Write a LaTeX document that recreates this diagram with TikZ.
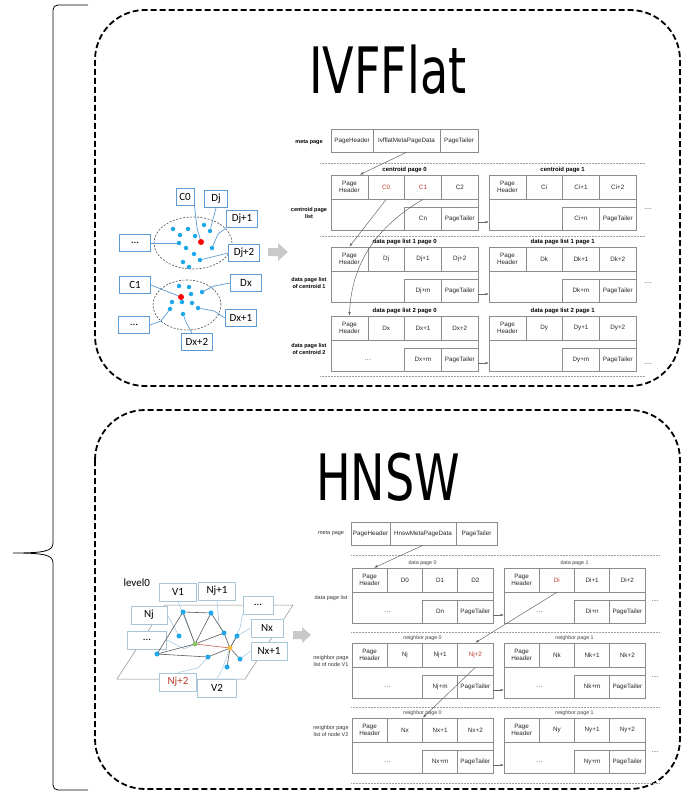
\documentclass[tikz,border=0pt]{standalone}
\usepackage{fontspec}
\setmainfont{Liberation Sans}
\newfontfamily\carlito{Carlito}
\newfontfamily\headfont[FakeStretch=0.72]{DejaVu Sans}
\usetikzlibrary{arrows.meta}

\definecolor{cellgrey}{HTML}{8C8C8C}
\definecolor{sepgrey}{HTML}{A0A0A0}
\definecolor{cellred}{HTML}{C0392B}
\definecolor{boxblue}{HTML}{5B9BD5}
\definecolor{paleblue}{HTML}{A9C6D8}
\definecolor{dotblue}{HTML}{1FA8E8}
\definecolor{leadblue}{HTML}{9CC4DE}
\definecolor{nodegreen}{HTML}{8CC46C}
\definecolor{nodeyellow}{HTML}{F7B941}
\definecolor{arrowgrey}{HTML}{C9C9C9}

\tikzset{
  outline/.style={line width=1.8pt, dash pattern=on 6pt off 3pt, rounded corners=50pt},
  cell/.style={draw=cellgrey, line width=0.6pt, inner sep=0pt, minimum width=\cw pt,
    minimum height=24pt, align=center, text=black!85, font=\fontsize{6.3}{7.3}\selectfont},
  cellfree/.style={inner sep=0pt, text=black!70, font=\fontsize{7}{8}\selectfont},
  pagetitle/.style={font=\bfseries\fontsize{6}{7}\selectfont},
  sidelabel/.style={align=center, font=\bfseries\fontsize{5.5}{6.8}\selectfont},
  sepline/.style={draw=sepgrey, line width=0.6pt, dash pattern=on 0.6pt off 0.9pt},
  link/.style={draw=black!60, line width=0.5pt, -{Latex[length=3.5pt,width=2.5pt]}},
  moredots/.style={font=\fontsize{7}{8}\selectfont},
  bdot/.style={circle, fill=dotblue, inner sep=0pt, minimum size=4.5pt},
  rdot/.style={circle, fill=red, inner sep=0pt, minimum size=6pt},
  lead/.style={draw=boxblue, line width=0.7pt},
  tag/.style={draw=boxblue, line width=1pt, fill=white, inner sep=0pt, minimum width=31pt,
    minimum height=17pt, font=\carlito\fontsize{11}{12}\selectfont},
  softtag/.style={draw=paleblue, line width=0.8pt, fill=white, inner sep=0pt, minimum width=37pt,
    minimum height=18pt, font=\carlito\fontsize{11}{12}\selectfont},
  softlead/.style={draw=leadblue, line width=0.5pt},
  edge/.style={draw=black!65, line width=0.6pt},
  gdot/.style={circle, inner sep=0pt, minimum size=5pt},
}

% one page: header row, free space, last item and tailer
\newcommand{\pageblock}[9]{%
  \begin{scope}[shift={(#2,#3)}]
    \draw[draw=cellgrey, line width=0.6pt] (0,0) rectangle (4*\cw,55);
    \node[cell] (#1h) at (0.5*\cw,12) {Page\\Header};
    \node[cell] (#1a) at (1.5*\cw,12) {#4};
    \node[cell] (#1b) at (2.5*\cw,12) {#5};
    \node[cell] (#1c) at (3.5*\cw,12) {#6};
    \node[cellfree] (#1d) at (\cw,44) {#7};
    \node[cell, minimum height=23pt] (#1n) at (2.5*\cw,43.5) {#8};
    \node[cell, minimum height=23pt] (#1t) at (3.5*\cw,43.5) {PageTailer};
    \node[pagetitle] (#1title) at (2*\cw,-5) {#9};
    \coordinate (#1in) at (0,47);
    \coordinate (#1out) at (4*\cw,47);
  \end{scope}}

\begin{document}
\begin{tikzpicture}[x=1pt,y=-1pt]
  \useasboundingbox (0,0) rectangle (684,794);

  %%%%% BRACE AND FRAMES %%%%%
  \draw[line width=0.8pt] (88,5) -- (58,5) .. controls (55,5) and (53,7) .. (53,10) -- (53,543)
    .. controls (53,551) and (45,553) .. (13,553) .. controls (45,553) and (53,555) .. (53,563)
    -- (53,785) .. controls (53,788) and (55,790) .. (58,790) -- (88,790);

  \draw[outline] (95,10) rectangle (680,386);
  \draw[outline] (95,410) rectangle (680,789);

  \node[font=\headfont\fontsize{64}{70}\selectfont] (tivf) at (388,70) {IVFFlat};
  \node[font=\headfont\fontsize{64}{70}\selectfont] (thnsw) at (388,477) {HNSW};

  %%%%% IVFFLAT CLUSTERS %%%%%
  \draw[draw=black!70, line width=0.6pt, dash pattern=on 2pt off 1.5pt] (193,243) ellipse [x radius=39pt, y radius=26pt];
  \draw[draw=black!70, line width=0.6pt, dash pattern=on 2pt off 1.5pt] (187,305) ellipse [x radius=34pt, y radius=25pt];

  \node[bdot] (a1) at (173,229) {};
  \node[bdot] (a2) at (188,229) {};
  \node[bdot] (a3) at (204,225) {};
  \node[bdot] (a4) at (210,231) {};
  \node[bdot] (a5) at (180,235) {};
  \node[bdot] (a6) at (195,236) {};
  \node[bdot] (a7) at (179,243) {};
  \node[bdot] (a8) at (186,248) {};
  \node[bdot] (a9) at (212,248) {};
  \node[bdot] (a10) at (194,254) {};
  \node[bdot] (a11) at (200,260) {};
  \node[bdot] (a12) at (183,262) {};
  \node[bdot] (a13) at (189,267) {};
  \node[rdot] (r1) at (201,242) {};

  \node[bdot] (b1) at (179,286) {};
  \node[bdot] (b2) at (189,287) {};
  \node[bdot] (b3) at (202,292) {};
  \node[bdot] (b4) at (191,294) {};
  \node[bdot] (b5) at (172,302) {};
  \node[bdot] (b6) at (182,302) {};
  \node[bdot] (b7) at (192,303) {};
  \node[bdot] (b8) at (198,308) {};
  \node[bdot] (b9) at (170,309) {};
  \node[bdot] (b10) at (183,314) {};
  \node[rdot] (r2) at (181,297) {};

  \node[tag, minimum width=18pt] (lC0) at (185,197) {C0};
  \node[tag, minimum width=23pt] (lDj) at (216,199) {Dj};
  \node[tag] (lDja) at (242,219) {Dj+1};
  \node[tag] (lDotsA) at (135,243) {...};
  \node[tag] (lDjb) at (244,253) {Dj+2};
  \node[tag] (lC1) at (135,285) {C1};
  \node[tag] (lDx) at (246,283) {Dx};
  \node[tag] (lDotsB) at (134,325) {...};
  \node[tag] (lDxa) at (241,318) {Dx+1};
  \node[tag] (lDxb) at (197,342) {Dx+2};

  \draw[lead] (lC0.south east) -- (197,228) -- (r1);
  \draw[lead] (lDj.south) -- (213,219) -- (a4);
  \draw[lead] (lDja.south west) -- (218,234) -- (a9);
  \draw[lead] (lDotsA.east) -- (a7);
  \draw[lead] (lDjb.west) -- (a11);
  \draw[lead] (lC1.east) -- (r2);
  \draw[lead] (lDx.west) -- (214,286) -- (b3);
  \draw[lead] (lDotsB.east) -- (161,321) -- (b9);
  \draw[lead] (lDxa.west) -- (214,311) -- (b8);
  \draw[lead] (lDxb.120) -- (186,322) -- (b10);

  \fill[arrowgrey] (268,248) -- (278,248) -- (278,243) -- (288,252) -- (278,261) -- (278,256) -- (268,256) -- cycle;

  %%%%% IVFFLAT PAGES %%%%%
  \def\cw{36.8}
  \node[sidelabel] (lmeta) at (309,142) {meta page};
  \node[sidelabel] (lcent) at (309,213) {centroid page\\list};
  \node[sidelabel] (ldata1) at (309,283) {data page list\\of centroid 1};
  \node[sidelabel] (ldata2) at (309,349) {data page list\\of centroid 2};

  \node[cell, minimum width=42pt, minimum height=23pt] (mh) at (352,140.5) {PageHeader};
  \node[cell, minimum width=67pt, minimum height=23pt] (mm) at (406.5,140.5) {IvfflatMetaPageData};
  \node[cell, minimum width=38pt, minimum height=23pt] (mt) at (459,140.5) {PageTailer};

  \draw[sepline] (320,163) -- (645,163);
  \draw[sepline] (320,236) -- (645,236);
  \draw[sepline] (320,376) -- (645,376);

  \pageblock{c0}{331}{175}{\textcolor{cellred}{C0}}{\textcolor{cellred}{C1}}{C2}{}{Cn}{centroid page 0}
  \pageblock{c1}{489}{175}{Ci}{Ci+1}{Ci+2}{}{Ci+n}{centroid page 1}
  \pageblock{da0}{331}{247}{Dj}{Dj+1}{Dj+2}{}{Dj+m}{data page list 1 page 0}
  \pageblock{da1}{489}{247}{Dk}{Dk+1}{Dk+2}{}{Dk+m}{data page list 1 page 1}
  \pageblock{db0}{331}{316}{Dx}{Dx+1}{Dx+2}{…}{Dx+m}{data page list 2 page 0}
  \pageblock{db1}{489}{316}{Dy}{Dy+1}{Dy+2}{}{Dy+m}{data page list 2 page 1}

  \node[moredots] (c1more) at (648,209) {…};
  \node[moredots] (da1more) at (648,283) {…};
  \node[moredots] (db1more) at (648,364) {…};

  \draw[link] (c0out) -- (c1in);
  \draw[link] (da0out) -- (da1in);
  \draw[link] (db0out) -- (db1in);

  \draw[link] (mm.south) -- (c0h.50);
  \draw[link] (c0a.south) -- (da0h.north);
  \draw[link] (c0b.south) .. controls (385,222) and (352,255) .. (db0h.north);

  %%%%% HNSW GRAPH %%%%%
  \node[anchor=west, font=\carlito\fontsize{11}{12}\selectfont] (lvl) at (120,583) {level0};

  \draw[draw=black!45, line width=0.5pt] (117,679) -- (165,605) -- (293,605) -- (245,679) -- cycle;

  \coordinate (g) at (195,644);
  \coordinate (y) at (230,648);
  \coordinate (n1) at (183,612);
  \coordinate (n2) at (211,613);
  \coordinate (n3) at (224,633);
  \coordinate (n4) at (179,636);
  \coordinate (n5) at (157,654);
  \coordinate (n6) at (208,657);
  \coordinate (n7) at (237,636);
  \coordinate (n8) at (240,659);
  \coordinate (n9) at (227,667);

  \node[softtag] (tV1) at (178,592) {V1};
  \node[softtag] (tNja) at (217,591) {Nj+1};
  \node[softtag, minimum width=36pt] (tNj) at (149,615) {Nj};
  \node[softtag, minimum width=39pt] (tDotsL) at (147,640) {...};
  \node[softtag, minimum width=30pt] (tDotsR) at (258,605) {...};
  \node[softtag, minimum width=32pt] (tNx) at (267,628) {Nx};
  \node[softtag, minimum width=36pt] (tNxa) at (269,651) {Nx+1};
  \node[softtag, text=cellred] (tNjb) at (178,682) {Nj+2};
  \node[softtag, minimum width=39pt] (tV2) at (217,688) {V2};

  \draw[softlead] (tV1.south) -- (g);
  \draw[softlead] (tNja.south) -- (219,625) -- (n3);
  \draw[softlead] (tNj.east) -- (n4);
  \draw[softlead] (tDotsL.east) -- (184,649) -- (g);
  \draw[softlead] (tDotsR.south west) -- (240,628) -- (y);
  \draw[softlead] (tNx.west) -- (n7);
  \draw[softlead] (tNxa.west) -- (n8);
  \draw[softlead] (tNjb.north) -- (198,668) -- (n6);
  \draw[softlead] (tV2.north) -- (222,670) -- (y);

  \draw[edge] (n1) -- (n2) -- (n3) -- (y) -- (n6) -- (n5) -- cycle;
  \draw[edge] (g) -- (n1);
  \draw[edge] (g) -- (n2);
  \draw[edge] (g) -- (n3);
  \draw[edge] (g) -- (n5);
  \draw[edge] (y) -- (n7);
  \draw[edge] (y) -- (n8);
  \draw[edge] (y) -- (n9);
  \draw[draw=cellred!80, line width=0.6pt] (g) -- (y);

  \foreach \p in {n1,n2,n3,n4,n5,n6,n7,n8,n9}
    \node[gdot, fill=dotblue] at (\p) {};
  \node[gdot, fill=nodegreen] (vg) at (g) {};
  \node[gdot, fill=nodeyellow] (vy) at (y) {};

  \fill[arrowgrey] (293,631) -- (302,631) -- (302,627) -- (311,635) -- (302,643) -- (302,639) -- (293,639) -- cycle;

  %%%%% HNSW PAGES %%%%%
  \def\cw{35.25}
  \tikzset{pagetitle/.style={text=black!75, font=\fontsize{5.3}{6.5}\selectfont},
    sidelabel/.style={align=center, text=black!80, font=\fontsize{5.5}{6.8}\selectfont}}

  \node[sidelabel] (hmeta) at (331,533) {meta page};
  \node[sidelabel] (hdata) at (331,598) {data page list};
  \node[sidelabel] (hv1) at (331,661) {neighbor page\\list of node V1};
  \node[sidelabel] (hv2) at (331,731) {neighbor page\\list of node V2};

  \node[cell, minimum width=39pt, minimum height=23pt] (nh) at (370.5,533.5) {PageHeader};
  \node[cell, minimum width=66pt, minimum height=23pt] (nm) at (423,533.5) {HnswMetaPageData};
  \node[cell, minimum width=41pt, minimum height=23pt] (nt) at (476.5,533.5) {PageTailer};

  \draw[sepline] (351,555) -- (660,555);
  \draw[sepline] (351,632) -- (660,632);
  \draw[sepline] (351,707) -- (660,707);
  \draw[sepline] (351,783) -- (660,783);

  \pageblock{hd0}{352}{568}{D0}{D1}{D2}{…}{Dn}{data page 0}
  \pageblock{hd1}{504}{568}{\textcolor{cellred}{Di}}{Di+1}{Di+2}{…}{Di+n}{data page 1}
  \pageblock{va0}{352}{643}{Nj}{Nj+1}{\textcolor{cellred}{Nj+2}}{…}{Nj+m}{neighbor page 0}
  \pageblock{va1}{504}{643}{Nk}{Nk+1}{Nk+2}{…}{Nk+m}{neighbor page 1}
  \pageblock{vb0}{352}{718}{Nx}{Nx+1}{Nx+2}{…}{Nx+m}{neighbor page 0}
  \pageblock{vb1}{504}{718}{Ny}{Ny+1}{Ny+2}{…}{Ny+m}{neighbor page 1}

  \node[moredots] (hd1more) at (655,601) {…};
  \node[moredots] (va1more) at (655,677) {…};
  \node[moredots] (vb1more) at (655,752) {…};

  \draw[link] (hd0out) -- (hd1in);
  \draw[link] (va0out) -- (va1in);
  \draw[link] (vb0out) -- (vb1in);

  \draw[link] (nm.south) -- (hd0h.70);
  \draw[link] (hd1a.south) -- (va0c.north);
  \draw[link] (va0c.south) -- (vb0a.north east);
\end{tikzpicture}
\end{document}
